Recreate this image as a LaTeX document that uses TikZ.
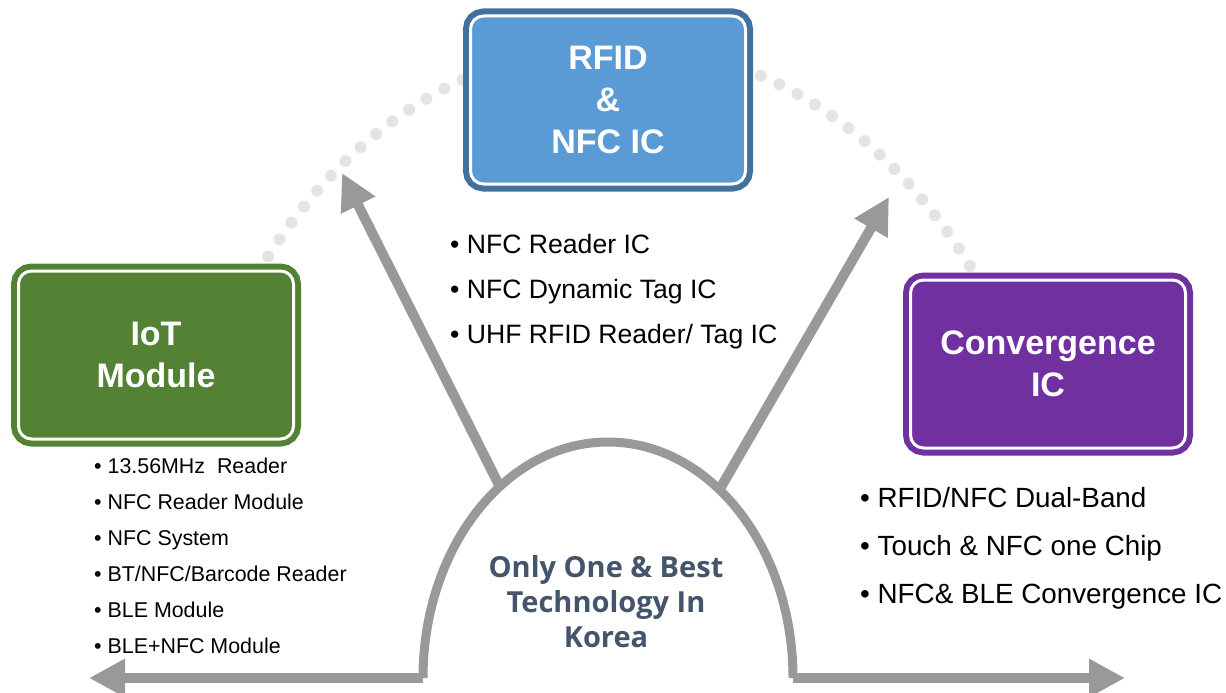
\documentclass[tikz,border=0pt]{standalone}
\usepackage{fontspec}
\setmainfont{Liberation Sans}
\newfontfamily\mottofont{Open Sans}
\usetikzlibrary{arrows.meta}

\begin{document}
\begin{tikzpicture}[x=1pt, y=-1pt, >={Triangle[length=36pt, width=36pt]}]

    % Colours of the three product boxes
    \definecolor{RFIDfill}{HTML}{5B9BD5} % blue
    \definecolor{RFIDline}{HTML}{41719C}
    \definecolor{IoTfill}{HTML}{548235}  % green
    \definecolor{Convfill}{HTML}{7030A0} % purple
    \definecolor{Arrowgray}{HTML}{999999}
    \definecolor{Dotgray}{HTML}{E4E4E4}
    \definecolor{Mottocolor}{HTML}{44546A}

    \tikzset{
        titlebox/.style 2 args={rectangle, rounded corners=13pt, minimum width=275pt, minimum height=168pt,
            fill=#1, draw=white, line width=3pt, preaction={draw=#2, line width=15pt},
            text=white, align=center, font=\bfseries\fontsize{34}{42}\selectfont},
        itemL/.style={anchor=base west, inner sep=0pt, font=\fontsize{21.4}{25}\selectfont},
        itemM/.style={anchor=base west, inner sep=0pt, font=\fontsize{26.6}{30}\selectfont},
        itemR/.style={anchor=base west, inner sep=0pt, font=\fontsize{27.8}{32}\selectfont},
        bigarrow/.style={draw=Arrowgray, line width=10pt},
        dotarc/.style={draw=Dotgray, line width=12pt, line cap=round, dash pattern=on 0pt off 20.5pt}
    }

    \useasboundingbox (0,0) rectangle (1226,693);

    % --- 1. DOTTED ARC (behind the boxes) ---
    \draw[dotarc] (616,620) ++(-143:449 and 575) arc[start angle=-143, end angle=-37, x radius=449, y radius=575];

    % --- 2. THE THREE BOXES ---
    \node[titlebox={RFIDfill}{RFIDline}] (rfid) at (608,100) {RFID\\\&\\NFC IC};
    \node[titlebox={IoTfill}{IoTfill}] (iot) at (156,355) {IoT\\Module};
    \node[titlebox={Convfill}{Convfill}] (conv) at (1048,364) {Convergence\\IC};

    % Item lists
    \foreach \txt [count=\i] in {13.56MHz\ \ Reader, NFC Reader Module, NFC System,
        BT/NFC/Barcode Reader, BLE Module, BLE+NFC Module}
        \node[itemL] (iot\i) at (94, 473+36*\i-36) {• \txt};
    \foreach \txt [count=\i] in {NFC Reader IC, NFC Dynamic Tag IC, UHF RFID Reader/ Tag IC}
        \node[itemM] (rfid\i) at (450, 253+45*\i-45) {• \txt};
    \foreach \txt [count=\i] in {RFID/NFC Dual-Band, Touch \& NFC one Chip, NFC\& BLE Convergence IC}
        \node[itemR] (conv\i) at (860, 507+48*\i-48) {• \txt};

    % --- 3. CENTRAL DOME AND ARROWS ---
    \coordinate (arcW) at (423,678);
    \coordinate (arcE) at (793,678);
    \coordinate (hubL) at (499,485);
    \coordinate (hubR) at (721,487);
    \coordinate (tipRFID) at (342,173);
    \coordinate (tipConv) at (889,197);
    \coordinate (tipW) at (89,678);
    \coordinate (tipE) at (1125,678);

    \draw[Arrowgray, line width=9pt] (arcW) arc[start angle=180, end angle=360, x radius=185, y radius=236];

    \draw[bigarrow, ->] (hubL) -- (tipRFID);
    \draw[bigarrow, ->] (hubR) -- (tipConv);
    \draw[bigarrow, ->] (arcW) -- (tipW);
    \draw[bigarrow, ->] (arcE) -- (tipE);

    \node[text=Mottocolor, align=center, font=\mottofont\bfseries\fontsize{29}{35}\selectfont] (motto) at (606,602)
        {Only One \& Best\\Technology In\\Korea};

\end{tikzpicture}
\end{document}
